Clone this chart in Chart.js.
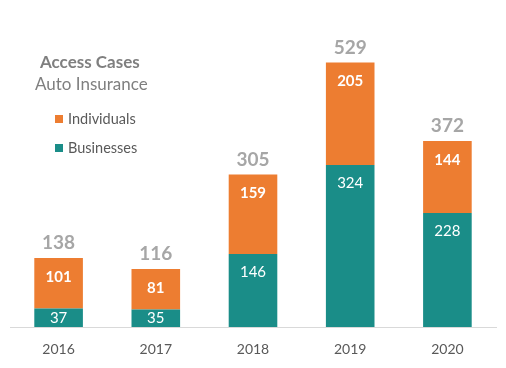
<!DOCTYPE html>
<html>
<head>
<meta charset="utf-8">
<script src="https://cdn.jsdelivr.net/npm/chart.js@4/dist/chart.umd.min.js"></script>
<style>
  html, body { margin: 0; padding: 0; background: #fff; }
  #wrap { width: 506px; height: 368px; position: relative; }
</style>
</head>
<body>
<div id="wrap"><canvas id="chart"></canvas></div>
<script>
const years = ['2016', '2017', '2018', '2019', '2020'];
const businesses = [37, 35, 146, 324, 228];
const individuals = [101, 81, 159, 205, 144];
const totals = [138, 116, 305, 529, 372];

const FONT = 'Lato, "Open Sans", sans-serif';
const ORANGE = '#ed7d31';
const TEAL = '#1a8d88';

// title, subtitle and legend drawn at the top-left, plus value labels
const labelsPlugin = {
  id: 'labelsPlugin',
  afterDatasetsDraw(chart) {
    const ctx = chart.ctx;
    ctx.save();
    ctx.textAlign = 'center';
    ctx.textBaseline = 'middle';

    const metaB = chart.getDatasetMeta(0);
    const metaI = chart.getDatasetMeta(1);
    metaB.data.forEach((bar, i) => {
      const h = bar.base - bar.y;
      ctx.fillStyle = '#fff';
      ctx.font = '15px ' + FONT;
      const yb = h < 36 ? bar.y + h / 2 : bar.y + 18;
      ctx.fillText(businesses[i], bar.x, yb);
    });
    metaI.data.forEach((bar, i) => {
      ctx.fillStyle = '#fff';
      ctx.font = 'bold 15px ' + FONT;
      ctx.fillText(individuals[i], bar.x, bar.y + 19);
      ctx.fillStyle = '#a6a6a6';
      ctx.font = 'bold 19px ' + FONT;
      ctx.fillText(totals[i], bar.x, bar.y - 15);
    });

    ctx.textAlign = 'left';
    ctx.fillStyle = '#7f7f7f';
    ctx.font = 'bold 17px ' + FONT;
    ctx.fillText('Access Cases', 40, 63);
    ctx.font = '17px ' + FONT;
    ctx.fillText('Auto Insurance', 35, 85);

    const items = [['Individuals', ORANGE, 119], ['Businesses', TEAL, 148]];
    items.forEach(([txt, col, y]) => {
      ctx.fillStyle = col;
      ctx.fillRect(55, y - 4, 8, 8);
      ctx.fillStyle = '#595959';
      ctx.font = '14.5px ' + FONT;
      ctx.fillText(txt, 68, y);
    });
    ctx.restore();
  }
};

new Chart(document.getElementById('chart'), {
  type: 'bar',
  data: {
    labels: years,
    datasets: [
      { label: 'Businesses', data: businesses, backgroundColor: TEAL, barPercentage: 0.5, categoryPercentage: 1 },
      { label: 'Individuals', data: individuals, backgroundColor: ORANGE, barPercentage: 0.5, categoryPercentage: 1 }
    ]
  },
  options: {
    responsive: true,
    maintainAspectRatio: false,
    animation: false,
    layout: { padding: { left: 10, right: 10, top: 27, bottom: 0 } },
    plugins: { legend: { display: false }, tooltip: { enabled: false } },
    scales: {
      x: {
        stacked: true,
        grid: { display: false, drawTicks: false },
        border: { color: '#d9d9d9', width: 1 },
        ticks: { color: '#595959', font: { family: FONT, size: 14 }, padding: 14 },
        afterFit: scale => { scale.height = 41; }
      },
      y: { stacked: true, display: false, min: 0, max: 600 }
    }
  },
  plugins: [labelsPlugin]
});
</script>
</body>
</html>
